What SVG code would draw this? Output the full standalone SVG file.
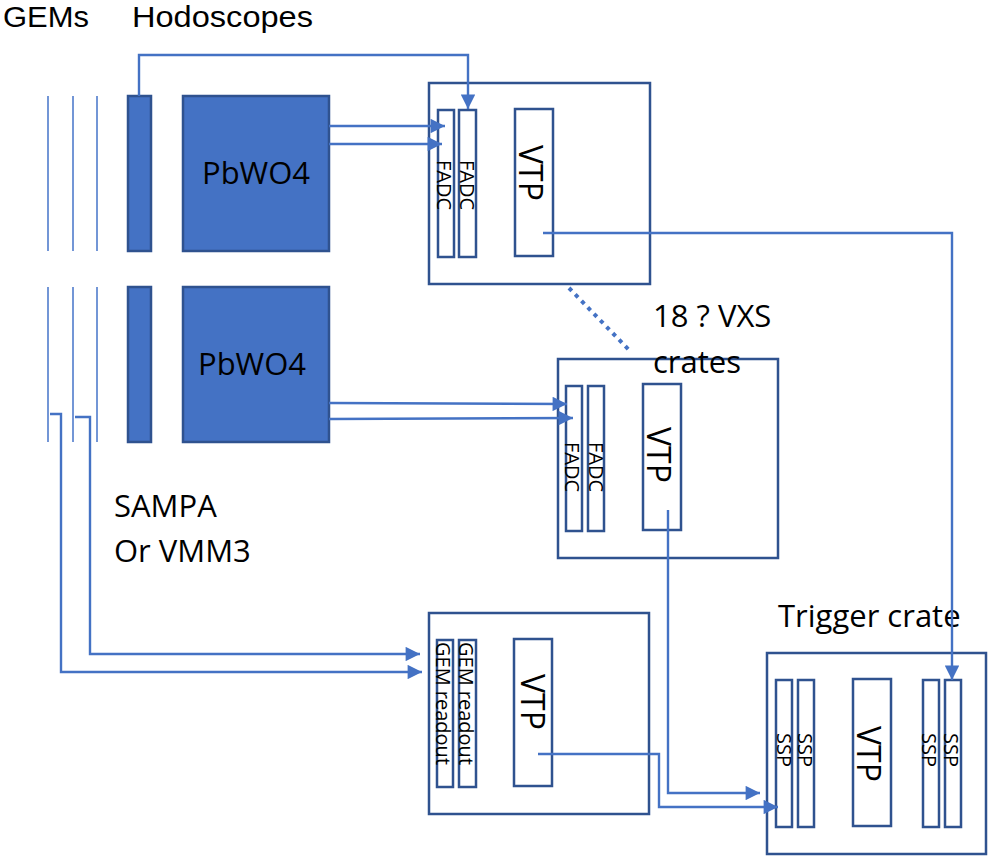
<svg xmlns="http://www.w3.org/2000/svg" width="988" height="856" viewBox="0 0 988 856">
<style>
text{font-family:"Open Sans","Liberation Sans",sans-serif;fill:#000}
.big{font-size:31px}
.top{font-family:"Liberation Sans","Open Sans",sans-serif;font-size:29px}
.small{font-size:20px}
.vtp{font-size:32px}
.crate{fill:none;stroke:#2F528F;stroke-width:2.5}
.card{fill:#fff;stroke:#2F528F;stroke-width:2.5}
.det{fill:#4472C4;stroke:#2F528F;stroke-width:2.5}
.gem{stroke:#7396D6;stroke-width:2;fill:none}
.conn{fill:none;stroke:#4472C4;stroke-width:2.4}
.dot{fill:none;stroke:#4472C4;stroke-width:4;stroke-dasharray:4 5}
</style>
<defs>
<marker id="arr" viewBox="0 0 10 10" refX="10" refY="5" markerWidth="6.5" markerHeight="6" markerUnits="strokeWidth" orient="auto">
<path d="M0,0 L10,5 L0,10 z" fill="#4472C4"/>
</marker>
</defs>
<rect width="988" height="856" fill="#fff"/>
<g id="labels">
<text class="top" x="3" y="27" textLength="86" lengthAdjust="spacingAndGlyphs">GEMs</text>
<text class="top" x="132" y="27" textLength="181" lengthAdjust="spacingAndGlyphs">Hodoscopes</text>
<text class="big" x="114" y="517">SAMPA</text>
<text class="big" x="114" y="562">Or VMM3</text>
<text class="big" x="778" y="627">Trigger crate</text>
</g>
<g id="gems-top">
<line class="gem" x1="48" y1="96" x2="48" y2="251"/>
<line class="gem" x1="73" y1="96" x2="73" y2="251"/>
<line class="gem" x1="97" y1="96" x2="97" y2="251"/>
</g>
<g id="gems-bottom">
<line class="gem" x1="48" y1="287" x2="48" y2="442"/>
<line class="gem" x1="73" y1="287" x2="73" y2="442"/>
<line class="gem" x1="97" y1="287" x2="97" y2="442"/>
</g>
<g id="hodo-top"><rect class="det" x="128" y="96" width="23" height="155"/></g>
<g id="hodo-bottom"><rect class="det" x="128" y="287" width="23" height="155"/></g>
<g id="pbwo4-top">
<rect class="det" x="183" y="96" width="146" height="155"/>
<text class="big" x="202" y="184">PbWO4</text>
</g>
<g id="pbwo4-bottom">
<rect class="det" x="183" y="287" width="146" height="155"/>
<text class="big" x="198" y="375">PbWO4</text>
</g>
<g id="crate1">
<rect class="crate" x="429" y="83" width="221" height="201"/>
<rect class="card" x="438" y="110" width="16" height="147"/>
<rect class="card" x="459" y="110" width="17" height="147"/>
<rect class="card" x="515" y="109" width="38" height="147"/>
<text class="small" transform="translate(437,160) rotate(90)">FADC</text>
<text class="small" transform="translate(460,160) rotate(90)">FADC</text>
<text class="vtp" transform="translate(519,145) rotate(90)">VTP</text>
</g>
<g id="crate2">
<rect class="crate" x="558" y="359" width="220" height="199"/>
<rect class="card" x="566" y="386" width="16" height="145"/>
<rect class="card" x="588" y="386" width="16" height="145"/>
<rect class="card" x="643" y="384" width="38" height="146"/>
<text class="small" transform="translate(565,442) rotate(90)">FADC</text>
<text class="small" transform="translate(589,442) rotate(90)">FADC</text>
<text class="vtp" transform="translate(647,427) rotate(90)">VTP</text>
<text class="big" x="653" y="327">18 ? VXS</text>
<text class="big" x="653" y="373">crates</text>
</g>
<g id="crate3">
<rect class="crate" x="429" y="613" width="220" height="201"/>
<rect class="card" x="437" y="640" width="16" height="147"/>
<rect class="card" x="459" y="640" width="17" height="147"/>
<rect class="card" x="514" y="639" width="38" height="147"/>
<text class="small" transform="translate(436,642) rotate(90)">GEM readout</text>
<text class="small" transform="translate(459,642) rotate(90)">GEM readout</text>
<text class="vtp" transform="translate(521,674) rotate(90)">VTP</text>
</g>
<g id="trigger-crate">
<rect class="crate" x="767" y="653" width="219" height="201"/>
<rect class="card" x="776" y="680" width="16" height="147"/>
<rect class="card" x="798" y="680" width="16" height="147"/>
<rect class="card" x="853" y="679" width="38" height="147"/>
<rect class="card" x="923" y="680" width="16" height="147"/>
<rect class="card" x="945" y="680" width="16" height="147"/>
<text class="small" transform="translate(777,733) rotate(90)">SSP</text>
<text class="small" transform="translate(798,733) rotate(90)">SSP</text>
<text class="vtp" transform="translate(857,726) rotate(90)">VTP</text>
<text class="small" transform="translate(922,733) rotate(90)">SSP</text>
<text class="small" transform="translate(944,733) rotate(90)">SSP</text>
</g>
<g id="connectors">
<polyline class="conn" points="139,96 139,55 468,55 468,109" marker-end="url(#arr)"/>
<line class="conn" x1="329" y1="126" x2="445" y2="126" marker-end="url(#arr)"/>
<line class="conn" x1="329" y1="144" x2="442" y2="144" marker-end="url(#arr)"/>
<line class="conn" x1="329" y1="403" x2="567" y2="404" marker-end="url(#arr)"/>
<line class="conn" x1="329" y1="419" x2="573" y2="418" marker-end="url(#arr)"/>
<polyline class="conn" points="50,414 61,414 61,672 422,672" marker-end="url(#arr)"/>
<polyline class="conn" points="75,417 90,417 90,654 420,654" marker-end="url(#arr)"/>
<polyline class="conn" points="543,233 952,233 952,680" marker-end="url(#arr)"/>
<polyline class="conn" points="668,510 668,793 760,793" marker-end="url(#arr)"/>
<polyline class="conn" points="538,754 659,754 659,807 778,807" marker-end="url(#arr)"/>
<line class="dot" x1="569" y1="288" x2="630" y2="351"/>
</g>
</svg>
